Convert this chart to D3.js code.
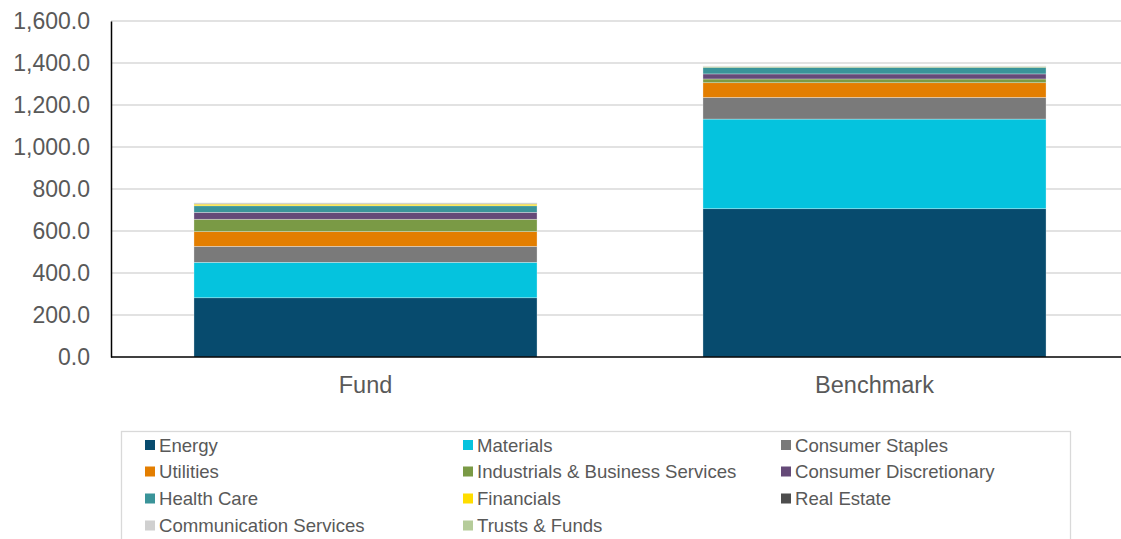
<!DOCTYPE html>
<html>
<head>
<meta charset="utf-8">
<script src="https://cdn.jsdelivr.net/npm/d3@7"></script>
<style>
  body { margin: 0; background: #fff; }
  svg { display: block; font-family: "Liberation Sans", Arial, sans-serif; }
</style>
</head>
<body>
<svg id="chart" width="1121" height="539"></svg>
<script>
// chart data
const categories = ["Fund", "Benchmark"];
const sectors = ["Energy", "Materials", "Consumer Staples", "Utilities",
  "Industrials & Business Services", "Consumer Discretionary", "Health Care",
  "Financials", "Real Estate", "Communication Services", "Trusts & Funds"];
const fundValues      = [282, 169, 76, 70, 59, 33, 31, 8, 4, 1, 1];
const benchmarkValues = [706, 427, 103, 70, 18, 24, 32, 2, 2, 1, 1];
const yTicks = [0, 200, 400, 600, 800, 1000, 1200, 1400, 1600];

const colors = ["#074B6E", "#05C3DE", "#7A7A7A", "#E37E00", "#7A9A45", "#654A78",
  "#3A9499", "#FFDD00", "#4D4D4D", "#D0D0D0", "#B5CC9A"];

const WIDTH = 1121;
const MARGIN = { left: 111, top: 21, right: 0, bottom: 182 };
const plotBottom = 357;

const svg = d3.select("#chart");

// build table for stack
const table = categories.map((c, i) => {
  const row = { cat: c };
  const vals = i === 0 ? fundValues : benchmarkValues;
  sectors.forEach((s, j) => { row[s] = vals[j]; });
  return row;
});
const series = d3.stack().keys(sectors)(table);

const x = d3.scaleBand().domain(categories).range([MARGIN.left, 1129])
  .paddingInner(0.326).paddingOuter(0.163);
const y = d3.scaleLinear().domain([0, 1600]).range([plotBottom, MARGIN.top]);
const color = d3.scaleOrdinal().domain(sectors).range(colors);

// gridlines
svg.append("g")
  .selectAll("line")
  .data(yTicks.slice(1))
  .join("line")
  .attr("x1", MARGIN.left).attr("x2", WIDTH)
  .attr("y1", d => y(d)).attr("y2", d => y(d))
  .attr("stroke", "#D9D9D9").attr("stroke-width", 1.3);

// bars
svg.append("g")
  .selectAll("g")
  .data(series)
  .join("g")
  .attr("fill", d => color(d.key))
  .selectAll("rect")
  .data(d => d)
  .join("rect")
  .attr("x", d => x(d.data.cat))
  .attr("width", x.bandwidth())
  .attr("y", d => y(d[1]))
  .attr("height", d => Math.max(0, y(d[0]) - y(d[1])))
  .attr("stroke", "#fff").attr("stroke-opacity", 0.5).attr("stroke-width", 0.6);

// y axis
const yAxis = svg.append("g")
  .attr("transform", `translate(${MARGIN.left},0)`)
  .call(d3.axisLeft(y).tickValues(yTicks).tickFormat(d3.format(",.1f")).tickSize(0).tickPadding(21));
yAxis.select(".domain").attr("stroke", "#000").attr("stroke-width", 1.5);
yAxis.selectAll("text").attr("font-size", 23).attr("fill", "#595959")
  .attr("font-family", "'Liberation Sans', Arial, sans-serif");

// x axis line
svg.append("line")
  .attr("x1", MARGIN.left).attr("x2", WIDTH)
  .attr("y1", plotBottom).attr("y2", plotBottom)
  .attr("stroke", "#000").attr("stroke-width", 1.5);

svg.append("g")
  .selectAll("text")
  .data(categories)
  .join("text")
  .attr("x", d => x(d) + x.bandwidth() / 2)
  .attr("y", 393)
  .attr("text-anchor", "middle")
  .attr("font-size", 23.5)
  .attr("fill", "#595959")
  .text(d => d);

// legend
svg.append("rect")
  .attr("x", 121.5).attr("y", 431.5).attr("width", 949).attr("height", 120)
  .attr("fill", "none").attr("stroke", "#D9D9D9").attr("stroke-width", 1.3);

const colX = [145, 463, 781];
const rowY = [445, 471.5, 498.5, 525.5];
const legend = svg.append("g")
  .selectAll("g")
  .data(sectors)
  .join("g")
  .attr("transform", (d, i) => `translate(${colX[i % 3]},${rowY[Math.floor(i / 3)]})`);
legend.append("rect")
  .attr("x", 0).attr("y", -5).attr("width", 10).attr("height", 10)
  .attr("fill", d => color(d));
legend.append("text")
  .attr("x", 14).attr("y", 6.5)
  .attr("font-size", 18.6)
  .attr("fill", "#595959")
  .text(d => d);
</script>
</body>
</html>
